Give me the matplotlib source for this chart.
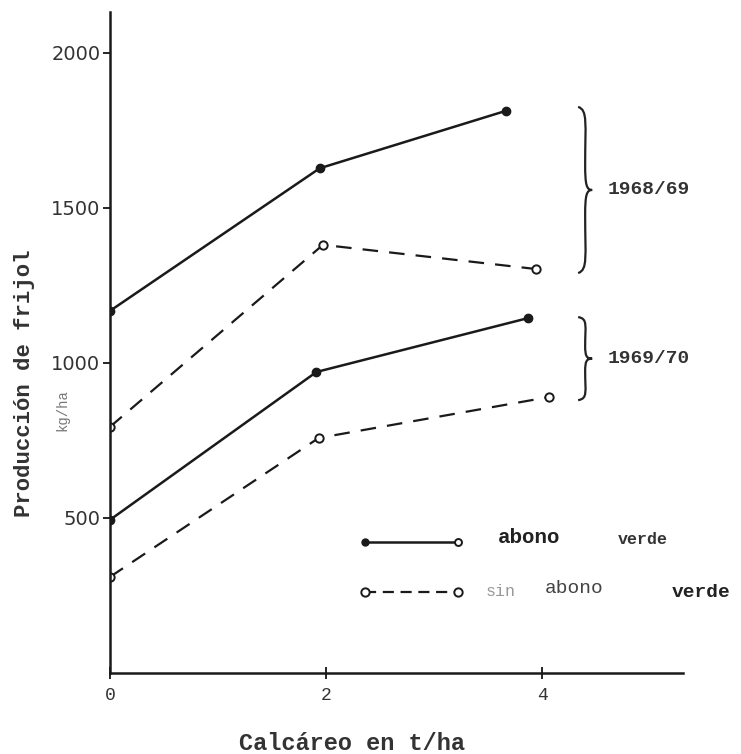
import matplotlib
matplotlib.use('Agg')

import matplotlib.pyplot as plt
from matplotlib.path import Path
from matplotlib.patches import PathPatch

# data (kg/ha vs t/ha of lime)
x_abono_6869 = [0, 1.94, 3.66]
y_abono_6869 = [1168, 1628, 1813]
x_sin_6869 = [0, 1.97, 3.94]
y_sin_6869 = [794, 1381, 1303]

x_abono_6970 = [0, 1.91, 3.87]
y_abono_6970 = [494, 971, 1145]
x_sin_6970 = [0, 1.93, 4.06]
y_sin_6970 = [310, 758, 890]

xticks = [0, 2, 4]
yticks = [500, 1000, 1500, 2000]
seasons = ["1968/69", "1969/70"]
season_spans = [(1290, 1826), (880, 1148)]

mono = ["Liberation Mono", "DejaVu Sans Mono"]


def brace(ax, x, y0, y1, w=0.13):
    # right-facing curly brace drawn in data coords
    ym = (y0 + y1) / 2
    h = (y1 - y0)
    verts = [(x, y1),
             (x + w * 0.7, y1 - h * 0.02), (x + w * 0.5, y1 - h * 0.1), (x + w * 0.5, ym + h * 0.15),
             (x + w * 0.5, ym + h * 0.03), (x + w * 0.6, ym), (x + w, ym),
             (x + w * 0.6, ym), (x + w * 0.5, ym - h * 0.03), (x + w * 0.5, ym - h * 0.15),
             (x + w * 0.5, y0 + h * 0.1), (x + w * 0.7, y0 + h * 0.02), (x, y0)]
    codes = [Path.MOVETO] + [Path.CURVE4] * 12
    ax.add_patch(PathPatch(Path(verts, codes), fill=False, lw=1.6, color="#222222"))


def main():
    fig = plt.figure(figsize=(7.41, 7.54), dpi=100)
    ax = fig.add_axes([110 / 741, 81 / 754, 573 / 741, 661 / 754])
    ax.set_xlim(0, 5.3)
    ax.set_ylim(0, 2132)

    lc = "#1a1a1a"
    solid = dict(color=lc, lw=1.8, ls="-", marker="o", ms=6, mfc=lc, mec=lc)
    dashed = dict(color=lc, lw=1.6, ls=(0, (7, 5)), marker="o", ms=6, mfc="white", mec=lc, mew=1.4)

    ax.plot(x_abono_6869, y_abono_6869, **solid)
    ax.plot(x_sin_6869, y_sin_6869, **dashed)
    ax.plot(x_abono_6970, y_abono_6970, **solid)
    ax.plot(x_sin_6970, y_sin_6970, **dashed)

    # braces and season labels
    for (lo, hi), s in zip(season_spans, seasons):
        brace(ax, 4.33, lo, hi)
        ax.text(4.6, (lo + hi) / 2, s, fontsize=14, family=mono, fontweight="bold",
                color="#333333", va="center", ha="left")

    # hand made legend
    ax.plot([2.36, 3.22], [422, 422], color=lc, lw=1.8)
    ax.plot([2.36], [422], "o", ms=5, color=lc)
    ax.plot([3.22], [422], "o", ms=5, mfc="white", mec=lc, mew=1.4)
    ax.text(3.59, 438, "abono", fontsize=15, family=mono, fontweight="bold", color="#222222", va="center")
    ax.text(4.70, 429, "verde", fontsize=12, family=mono, fontweight="bold", color="#333333", va="center")

    ax.plot([2.36, 3.22], [261, 261], color=lc, lw=1.6, ls=(0, (5, 3)))
    ax.plot([2.36, 3.22], [261, 261], "o", ms=6, mfc="white", mec=lc, mew=1.4)
    ax.text(3.47, 264, "sin", fontsize=12, family=mono, color="#999999", va="center")
    ax.text(4.02, 274, "abono", fontsize=14, family=mono, color="#444444", va="center")
    ax.text(5.20, 261, "verde", fontsize=14, family=mono, fontweight="bold", color="#222222",
            va="center", clip_on=False)

    # axes styling
    for side in ["top", "right"]:
        ax.spines[side].set_visible(False)
    for side in ["left", "bottom"]:
        ax.spines[side].set_linewidth(1.8)
        ax.spines[side].set_color(lc)
    ax.set_xticks(xticks)
    ax.set_yticks(yticks)
    ax.set_yticklabels([str(v) for v in yticks], fontsize=14, color="#333333")
    ax.set_xticklabels([str(v) for v in xticks], fontsize=13, family=mono, color="#333333")
    ax.tick_params(axis="y", direction="out", length=5, width=1.2, pad=2)
    ax.tick_params(axis="x", direction="inout", length=8, width=1.2, pad=6)

    fig.text(25 / 741, 1 - 383 / 754, "Producción de frijol", rotation=90, fontsize=16,
             family=mono, fontweight="bold", color="#333333", ha="center", va="center")
    fig.text(62 / 741, 1 - 410 / 754, "kg/ha", rotation=90, fontsize=10,
             family=mono, color="#777777", ha="center", va="center")
    fig.text(352 / 741, 1 - 743 / 754, "Calcáreo en t/ha", fontsize=17,
             family=mono, fontweight="bold", color="#333333", ha="center", va="center")

    fig.savefig("out.png", dpi=100, facecolor="white")


if __name__ == '__main__':
    main()
